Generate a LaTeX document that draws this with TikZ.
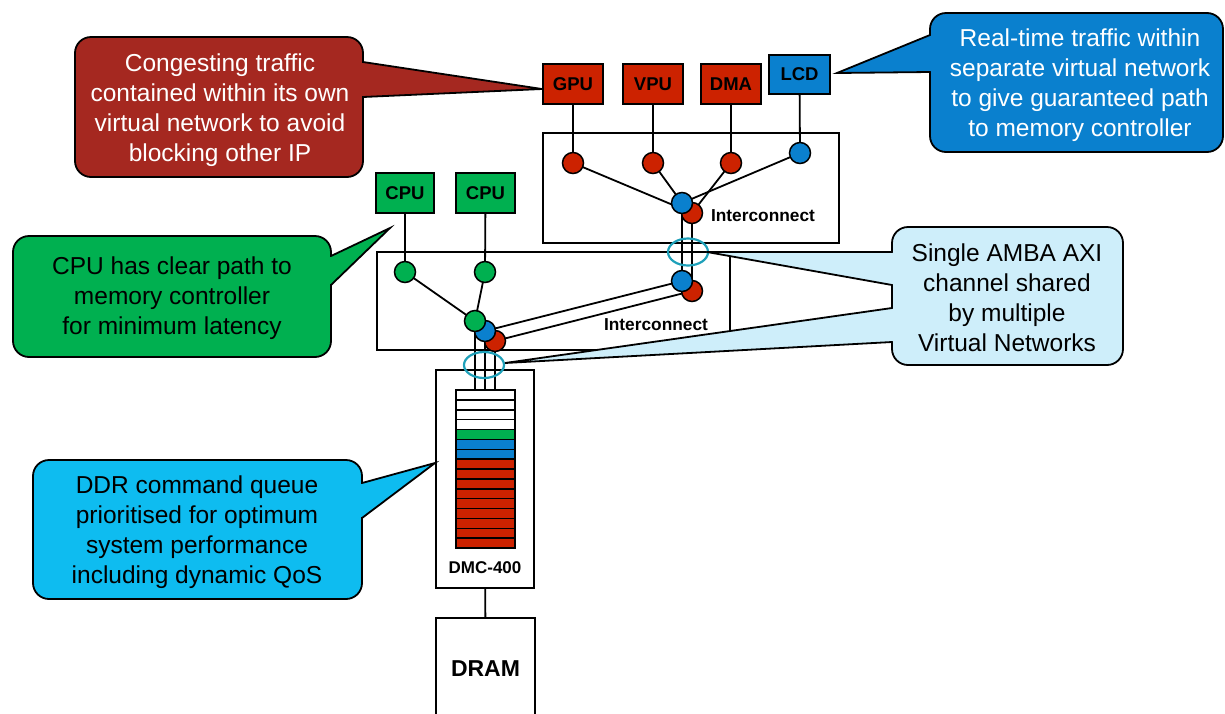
\documentclass[tikz,border=0pt]{standalone}
\usepackage{fontspec}
\setmainfont{Liberation Sans}
\usetikzlibrary{shapes.geometric}
\definecolor{boxred}{RGB}{204,34,0}
\definecolor{callred}{RGB}{165,40,32}
\definecolor{boxblue}{RGB}{10,128,206}
\definecolor{boxgreen}{RGB}{0,176,80}
\definecolor{calllight}{RGB}{206,238,250}
\definecolor{callsky}{RGB}{14,188,240}
\definecolor{ringteal}{RGB}{30,160,185}
\pgfdeclarelayer{bg}
\pgfsetlayers{bg,main}
\begin{document}
\begin{tikzpicture}[x=1pt,y=-1pt,line width=1.8pt,
  ipbox/.style={draw,minimum width=60pt,minimum height=40pt,inner sep=0pt,font=\fontsize{18.5}{21}\selectfont\bfseries},
  vc/.style={circle,draw,minimum size=21pt,inner sep=0pt,line width=1.5pt},
  icbox/.style={draw,inner sep=0pt},
  iclabel/.style={font=\fontsize{17.3}{19}\selectfont\bfseries,inner sep=0pt},
  calltext/.style={align=center,font=\fontsize{24.5}{30}\selectfont,inner sep=0pt},
  callbox/.style={draw,rounded corners=16pt,line width=1.8pt},
  ring/.style={ellipse,draw=ringteal,line width=2.2pt,minimum width=40pt,minimum height=27pt,inner sep=0pt},
  qrow/.style={draw,line width=1.5pt},
  conn/.style={draw,line width=1.8pt},
  tipline/.style={draw,line width=1.8pt,line join=miter}
]
\useasboundingbox (0,0) rectangle (1225,713);
\clip (0,0) rectangle (1225,713);

% interconnect boxes
\node[icbox,minimum width=296pt,minimum height=110pt] (icu) at (691,188) {};
\node[icbox,minimum width=353pt,minimum height=98pt] (icl) at (553.5,301) {};
\node[iclabel] (iculbl) at (763,216) {Interconnect};
\node[iclabel] (icllbl) at (656,325) {Interconnect};

% IP boxes
\node[ipbox,fill=boxred] (gpu) at (573,84) {GPU};
\node[ipbox,fill=boxred] (vpu) at (653,84) {VPU};
\node[ipbox,fill=boxred] (dma) at (731,84) {DMA};
\node[ipbox,fill=boxblue,minimum width=61pt,minimum height=39pt] (lcd) at (799.5,74.5) {LCD};
\node[ipbox,fill=boxgreen,minimum width=58pt] (cpua) at (405,193) {CPU};
\node[ipbox,fill=boxgreen,minimum width=59pt] (cpub) at (485.5,193) {CPU};

% virtual network circles
\node[vc,fill=boxred] (g1) at (573,163) {};
\node[vc,fill=boxred] (v1) at (653,163) {};
\node[vc,fill=boxred] (d1) at (731,163) {};
\node[vc,fill=boxblue] (l1) at (800,153) {};
\node[vc,fill=boxred] (mr) at (692,213) {};
\node[vc,fill=boxblue] (mb) at (682,203) {};
\node[vc,fill=boxred] (lr) at (692,291) {};
\node[vc,fill=boxblue] (lb) at (682,281) {};
\node[vc,fill=boxgreen] (c1) at (405,272) {};
\node[vc,fill=boxgreen] (c2) at (485,272) {};
\node[vc,fill=boxred] (cr) at (495,341) {};
\node[vc,fill=boxblue] (cb) at (485,331) {};
\node[vc,fill=boxgreen] (cg) at (475,321) {};

% DMC and DRAM
\node[icbox,minimum width=98pt,minimum height=218pt] (dmc) at (485,479) {};
\node[iclabel,font=\fontsize{17}{20}\selectfont\bfseries] (dmclbl) at (485,568) {DMC-400};
\node[icbox,minimum width=99pt,minimum height=112pt] (dram) at (485.5,674) {};
\node[iclabel,font=\fontsize{23}{26}\selectfont\bfseries] (dramlbl) at (485.5,669) {DRAM};
\coordinate (qtop) at (485,390);
\foreach \i/\c in {0/white,1/white,2/white,3/white,4/boxgreen,5/boxblue,6/boxblue,7/boxred,8/boxred,9/boxred,10/boxred,11/boxred,12/boxred,13/boxred,14/boxred,15/boxred}
  \path[qrow,fill=\c] (456,{390+\i*9.875}) rectangle (515,{390+(\i+1)*9.875});

% rings
\node[ring] (ringu) at (688,252) {};
\node[ring,minimum height=26pt] (ringl) at (484,365) {};

% connectors
\begin{pgfonlayer}{bg}
\path[conn] (gpu) -- (g1);
\path[conn] (vpu) -- (v1);
\path[conn] (dma) -- (d1);
\path[conn] (lcd) -- (l1);
\path[conn] (g1.center) -- (mr.center);
\path[conn] (v1.center) -- (mb.center);
\path[conn] (d1.center) -- (mr.center);
\path[conn] (l1.center) -- (mb.center);
\path[conn] (mb.center) -- (lb.center);
\path[conn] (mr.center) -- (lr.center);
\path[conn] (lb.center) -- (cb.center);
\path[conn] (lr.center) -- (cr.center);
\path[conn] (cpua) -- (c1);
\path[conn] (cpub) -- (c2);
\path[conn] (c1.center) -- (cg.center);
\path[conn] (c2.center) -- (cg.center);
\path[conn] (cg.center) -- (cg.center |- qtop);
\path[conn] (cb.center) -- (cb.center |- qtop);
\path[conn] (cr.center) -- (cr.center |- qtop);
\path[conn] (dmc) -- (dram);
\end{pgfonlayer}

% red callout
\path[callbox,fill=callred] (75,37) rectangle (363,177);
\fill[callred] (363,62) -- (542,89) -- (363,97) -- cycle;
\fill[callred] (360,63) rectangle (364,96);
\path[tipline] (363,62) -- (542,89) -- (363,97);
\node[calltext,text=white] (redtxt) at (220,110) {Congesting traffic\\contained within its own\\virtual network to avoid\\blocking other IP};

% blue callout
\path[callbox,fill=boxblue] (930,13) rectangle (1223,152);
\fill[boxblue] (930,35) -- (837,73) -- (930,72) -- cycle;
\fill[boxblue] (929,36) rectangle (933,71);
\path[tipline] (930,35) -- (837,73) -- (930,72);
\node[calltext,text=white] (bluetxt) at (1080,85) {Real-time traffic within\\separate virtual network\\to give guaranteed path\\to memory controller};

% green callout
\path[callbox,fill=boxgreen] (13,236) rectangle (331,357);
\fill[boxgreen] (331,256) -- (390,228) -- (331,285) -- cycle;
\fill[boxgreen] (328,257) rectangle (332,284);
\path[tipline] (331,256) -- (390,228) -- (331,285);
\node[calltext] (greentxt) at (172,298) {CPU has clear path to\\memory controller\\for minimum latency};

% light blue callout
\path[callbox,fill=calllight] (892,227) rectangle (1123,365);
\fill[calllight] (892,252) -- (707,252) -- (892,285) -- cycle;
\fill[calllight] (891,253) rectangle (895,284);
\path[tipline] (892,252) -- (707,252) -- (892,285);
\fill[calllight] (892,308) -- (505,363) -- (892,342) -- cycle;
\fill[calllight] (891,309) rectangle (895,341);
\path[tipline] (892,308) -- (505,363) -- (892,342);
\node[calltext] (lighttxt) at (1007,298) {Single AMBA AXI\\channel shared\\by multiple\\Virtual Networks};

% DDR callout
\path[callbox,fill=callsky] (33,460) rectangle (362,599);
\fill[callsky] (362,483) -- (435,463) -- (362,518) -- cycle;
\fill[callsky] (359,484) rectangle (363,517);
\path[tipline] (362,483) -- (435,463) -- (362,518);
\node[calltext] (ddrtxt) at (197,532) {DDR command queue\\prioritised for optimum\\system performance\\including dynamic QoS};
\end{tikzpicture}
\end{document}
